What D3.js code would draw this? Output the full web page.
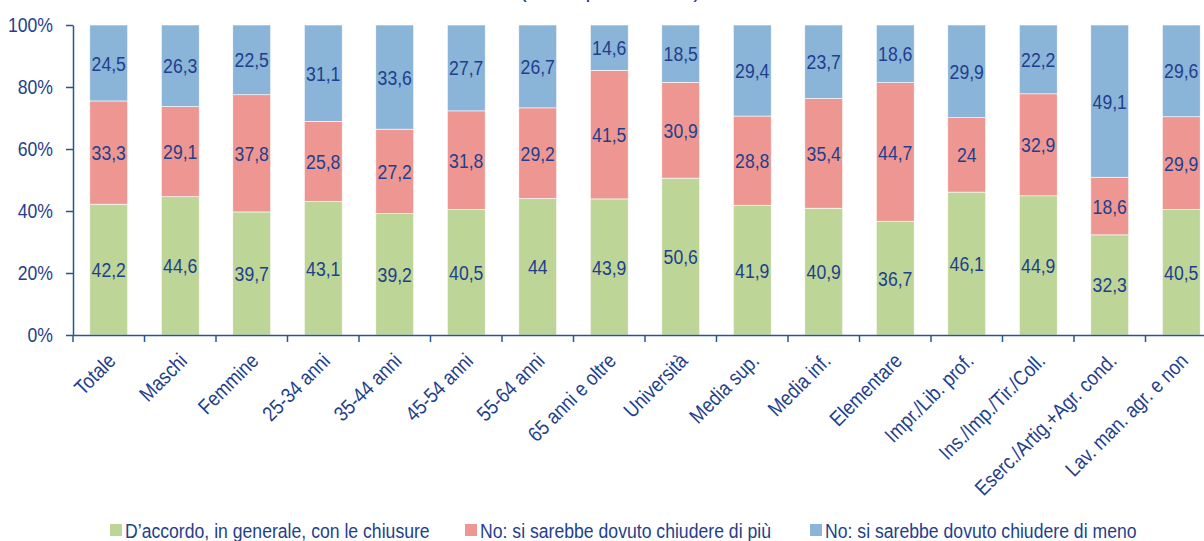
<!DOCTYPE html>
<html>
<head>
<meta charset="utf-8">
<script src="https://cdn.jsdelivr.net/npm/d3@7/dist/d3.min.js"></script>
<style>
  body { margin: 0; background: #fff; }
  svg { display: block; font-family: "Liberation Sans", Arial, sans-serif; }
</style>
</head>
<body>
<svg id="chart" width="1204" height="541"></svg>
<script>
var categories = ['Totale', 'Maschi', 'Femmine', '25-34 anni', '35-44 anni', '45-54 anni', '55-64 anni',
  '65 anni e oltre', 'Università', 'Media sup.', 'Media inf.', 'Elementare', 'Impr./Lib. prof.',
  'Ins./Imp./Tir./Coll.', 'Eserc./Artig.+Agr. cond.', 'Lav. man. agr. e non'];
var accordo = [42.2, 44.6, 39.7, 43.1, 39.2, 40.5, 44, 43.9, 50.6, 41.9, 40.9, 36.7, 46.1, 44.9, 32.3, 40.5];
var diPiu = [33.3, 29.1, 37.8, 25.8, 27.2, 31.8, 29.2, 41.5, 30.9, 28.8, 35.4, 44.7, 24, 32.9, 18.6, 29.9];
var diMeno = [24.5, 26.3, 22.5, 31.1, 33.6, 27.7, 26.7, 14.6, 18.5, 29.4, 23.7, 18.6, 29.9, 22.2, 49.1, 29.6];
var seriesNames = ['D\u2019accordo, in generale, con le chiusure', 'No: si sarebbe dovuto chiudere di più',
  'No: si sarebbe dovuto chiudere di meno'];
var yTicks = [0, 20, 40, 60, 80, 100];
var title = '(valori percentuali)';

var colors = ['#bed598', '#ee9792', '#8ab4d8'];
var textColor = '#1f3f8c';
var axisColor = '#27578a';
var narrow = 0.84; // the original font is a condensed sans

var svg = d3.select('#chart');
var margin = { top: 25, left: 73 };
var plotH = 310;
var step = 71.5;

// rows: one per category, normalized to 100%
var rows = categories.map(function(c, i) {
  var vals = [accordo[i], diPiu[i], diMeno[i]];
  var tot = d3.sum(vals);
  return { key: c, k0: vals[0] / tot * 100, k1: vals[1] / tot * 100, k2: vals[2] / tot * 100, raw: vals };
});

var x = d3.scaleBand()
  .domain(categories)
  .range([margin.left, margin.left + step * categories.length])
  .paddingInner(0.47)
  .paddingOuter(0.235);

var y = d3.scaleLinear()
  .domain([0, 100])
  .range([margin.top + plotH, margin.top]);

var stack = d3.stack().keys(['k0', 'k1', 'k2']);
var layers = stack(rows);

// title (cut at the top edge as in the picture)
svg.append('text')
  .attr('x', 610)
  .attr('y', -3)
  .attr('text-anchor', 'middle')
  .attr('fill', textColor)
  .style('font-size', '22px')
  .text(title);

// bars
var layer = svg.selectAll('.layer')
  .data(layers)
  .enter().append('g')
  .attr('class', 'layer')
  .attr('fill', function(d, i) { return colors[i]; });

layer.selectAll('rect')
  .data(function(d) { return d; })
  .enter().append('rect')
  .attr('x', function(d) { return x(d.data.key); })
  .attr('y', function(d) { return y(d[1]); })
  .attr('width', x.bandwidth())
  .attr('height', function(d) { return y(d[0]) - y(d[1]); })
  .attr('stroke', '#fff')
  .attr('stroke-width', 0.6);

// value labels
layer.selectAll('text')
  .data(function(d, li) { return d.map(function(p) { return { p: p, li: li }; }); })
  .enter().append('text')
  .attr('transform', function(d) {
    var cx = x(d.p.data.key) + x.bandwidth() / 2;
    var cy = (y(d.p[0]) + y(d.p[1])) / 2;
    return 'translate(' + cx + ',' + cy + ') scale(' + narrow + ',1)';
  })
  .attr('dy', '0.36em')
  .attr('text-anchor', 'middle')
  .attr('fill', textColor)
  .style('font-size', '21px')
  .text(function(d) { return String(d.p.data.raw[d.li]).replace('.', ','); });

// y axis
var yAxis = svg.append('g')
  .attr('transform', 'translate(' + margin.left + ',0)')
  .call(d3.axisLeft(y).tickValues(yTicks).tickSize(7).tickSizeOuter(0)
    .tickFormat(function(d) { return d + '%'; }));
yAxis.select('.domain').attr('stroke', axisColor).attr('stroke-width', 1.5);
yAxis.selectAll('.tick line').attr('stroke', axisColor).attr('stroke-width', 1.5);
yAxis.selectAll('.tick text')
  .attr('x', 0)
  .attr('transform', 'translate(-20,0) scale(' + narrow + ',1)')
  .attr('fill', textColor)
  .style('font-size', '21px');

// x axis
var xAxis = svg.append('g')
  .attr('transform', 'translate(0,' + (margin.top + plotH) + ')')
  .call(d3.axisBottom(x).tickSize(0).tickSizeOuter(0));
xAxis.select('.domain').attr('stroke', axisColor).attr('stroke-width', 1.5);
xAxis.selectAll('.tick text')
  .attr('fill', textColor)
  .style('font-size', '21px')
  .attr('text-anchor', 'end')
  .attr('transform', 'translate(3,22) rotate(-45) scale(0.86,1)')
  .attr('x', 0)
  .attr('y', 0)
  .attr('dy', '0.35em');

// separator ticks between categories
xAxis.selectAll('.sep')
  .data(d3.range(categories.length))
  .enter().append('line')
  .attr('class', 'sep')
  .attr('x1', function(i) { return x.range()[0] + i * x.step(); })
  .attr('x2', function(i) { return x.range()[0] + i * x.step(); })
  .attr('y1', 0)
  .attr('y2', 7)
  .attr('stroke', axisColor)
  .attr('stroke-width', 1.5);

// legend
var legendX = [110, 465, 810];
var legend = svg.selectAll('.legend')
  .data(seriesNames)
  .enter().append('g')
  .attr('class', 'legend')
  .attr('transform', function(d, i) { return 'translate(' + legendX[i] + ',524)'; });
legend.append('rect')
  .attr('width', 12)
  .attr('height', 12)
  .attr('fill', function(d, i) { return colors[i]; });
legend.append('text')
  .attr('transform', 'translate(15,6) scale(' + narrow + ',1)')
  .attr('dy', '0.36em')
  .attr('fill', textColor)
  .style('font-size', '21px')
  .text(function(d) { return d; });
</script>
</body>
</html>
